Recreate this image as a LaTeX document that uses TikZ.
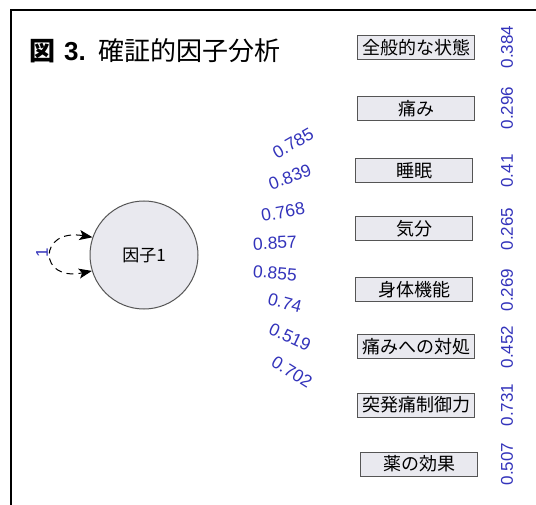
\documentclass[tikz,border=0pt]{standalone}
\usepackage{fontspec}
\setmainfont{Liberation Sans}
\newfontfamily\cjk{Noto Sans CJK JP}
\usetikzlibrary{arrows.meta}
\definecolor{numblue}{HTML}{3333BB}
\definecolor{boxfill}{HTML}{E9E9EF}
\definecolor{boxdraw}{HTML}{555555}
\tikzset{
  varbox/.style={draw=boxdraw, fill=boxfill, line width=1pt, minimum width=117pt, minimum height=24pt, inner sep=0pt, font=\cjk\fontsize{18}{18}\selectfont},
  resid/.style={text=numblue, font=\fontsize{17}{17}\selectfont, rotate=90, inner sep=0pt},
  loadlbl/.style={text=numblue, font=\fontsize{17.5}{17.5}\selectfont, inner sep=0pt},
  loopline/.style={dash pattern=on 7pt off 5pt, line width=1pt, >={Stealth[length=13pt,width=10pt,inset=3pt]}, <->},
}
\begin{document}
\begin{tikzpicture}[x=1pt,y=-1pt]
\useasboundingbox (0,0) rectangle (536,505);
\fill[white] (0,0) rectangle (536,505);
\draw[line width=2pt] (536,10) -- (11,10) -- (11,505);
\node[anchor=west, inner sep=0pt] (title) at (29,51) {\fontsize{26}{26}\selectfont{\cjk\bfseries 図}\hspace{9pt}\textbf{3.}\hspace{13pt}{\cjk 確証的因子分析}};
% factor
\node[circle, draw=boxdraw, fill=boxfill, line width=1pt, minimum size=108pt, inner sep=0pt, font=\cjk\fontsize{17}{17}\selectfont] (f1) at (144,255) {因子1};
\draw[loopline] (f1.161) .. controls (38,228) and (38,282) .. (f1.197);
\node[text=numblue, font=\fontsize{17}{17}\selectfont, rotate=90, inner sep=0pt] (loop1) at (42,253) {1};
% boxes
\node[varbox] (v1) at (416,48) {全般的な状態};
\node[varbox] (v2) at (416,109) {痛み};
\node[varbox] (v3) at (414,171) {睡眠};
\node[varbox] (v4) at (414,229) {気分};
\node[varbox] (v5) at (414,290) {身体機能};
\node[varbox] (v6) at (416,347) {痛みへの対処};
\node[varbox] (v7) at (416,405) {突発痛制御力};
\node[varbox] (v8) at (419,464) {薬の効果};
% residuals
\node[resid] (r1) at (507,47) {0.384};
\node[resid] (r2) at (507,108) {0.296};
\node[resid] (r3) at (507,171) {0.41};
\node[resid] (r4) at (507,229) {0.265};
\node[resid] (r5) at (507,290) {0.269};
\node[resid] (r6) at (507,347) {0.452};
\node[resid] (r7) at (507,405) {0.731};
\node[resid] (r8) at (507,464) {0.507};
% loadings
\node[loadlbl, rotate=30] (l1) at (293,143) {0.785};
\node[loadlbl, rotate=20] (l2) at (290,177) {0.839};
\node[loadlbl, rotate=10] (l3) at (283,212) {0.768};
\node[loadlbl, rotate=3] (l4) at (275,243) {0.857};
\node[loadlbl, rotate=-5] (l5) at (275,273) {0.855};
\node[loadlbl, rotate=-15] (l6) at (285,303) {0.74};
\node[loadlbl, rotate=-25] (l7) at (290,337) {0.519};
\node[loadlbl, rotate=-32] (l8) at (292,372) {0.702};
\end{tikzpicture}
\end{document}
